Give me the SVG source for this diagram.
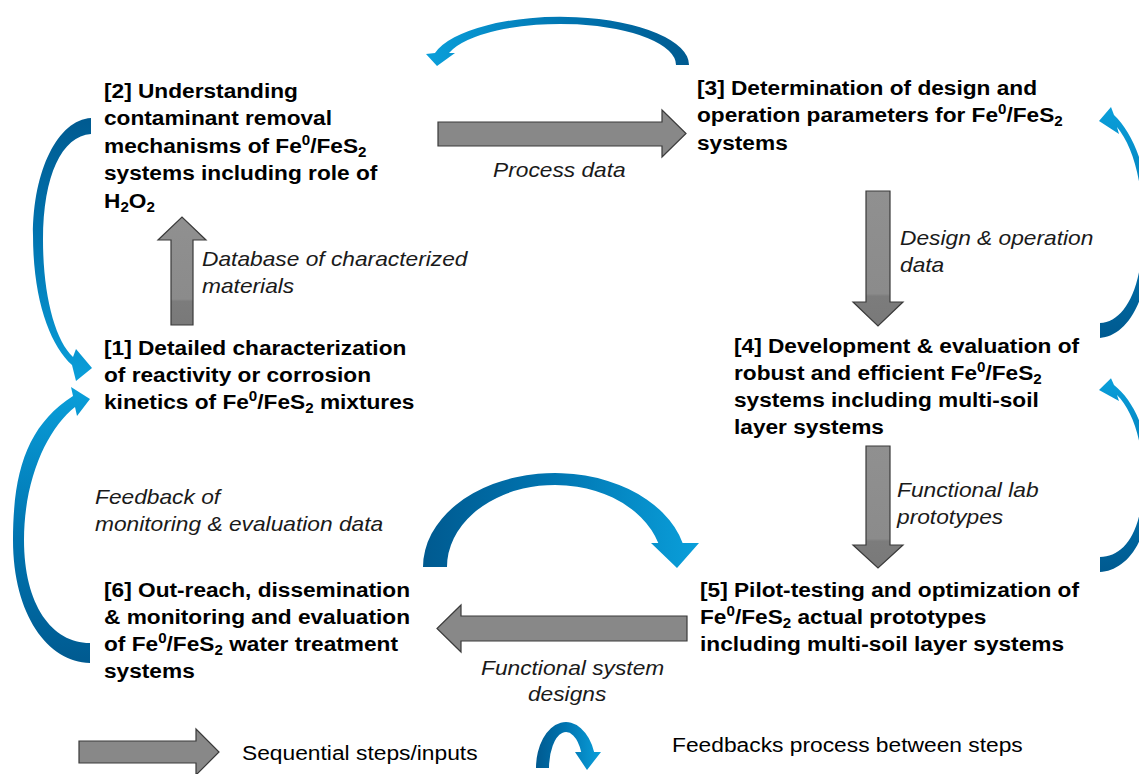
<svg xmlns="http://www.w3.org/2000/svg" width="1139" height="774" viewBox="0 0 1139 774">
<defs>
<style>
.b{font-family:"Liberation Sans",Arial,sans-serif;font-weight:bold;font-size:21px;fill:#000}
.i{font-family:"Liberation Sans",Arial,sans-serif;font-style:italic;font-size:20.5px;fill:#1a1a1a}
.l{font-family:"Liberation Sans",Arial,sans-serif;font-size:21px;fill:#000}
.sp{font-size:14px}
.blk{stroke:#3a3a3a;stroke-width:1.2;fill:#888888}
.blkv{stroke:#3a3a3a;stroke-width:1.2;fill:url(#gv)}
</style>
<linearGradient id="gv" x1="0" y1="0" x2="0" y2="1">
<stop offset="0" stop-color="#909090"/><stop offset="0.76" stop-color="#8b8b8b"/><stop offset="0.78" stop-color="#7c7c7c"/><stop offset="1" stop-color="#797979"/>
</linearGradient>
<linearGradient id="gUp" x1="0" y1="1" x2="0" y2="0">
<stop offset="0" stop-color="#005a90"/><stop offset="0.45" stop-color="#0074b0"/><stop offset="1" stop-color="#0a9fda"/>
</linearGradient>
<linearGradient id="gDown" x1="0" y1="0" x2="0" y2="1">
<stop offset="0" stop-color="#005a90"/><stop offset="0.45" stop-color="#0074b0"/><stop offset="1" stop-color="#0a9fda"/>
</linearGradient>
<linearGradient id="gLeft" x1="1" y1="0" x2="0" y2="0">
<stop offset="0" stop-color="#005a90"/><stop offset="0.45" stop-color="#0074b0"/><stop offset="1" stop-color="#0a9fda"/>
</linearGradient>
<linearGradient id="gRight" x1="0" y1="0" x2="1" y2="0">
<stop offset="0" stop-color="#005a90"/><stop offset="0.45" stop-color="#0074b0"/><stop offset="1" stop-color="#0a9fda"/>
</linearGradient>
</defs>
<rect width="1139" height="774" fill="#ffffff"/>

<g id="connectors">
<polygon class="blk" points="438,122 662,122 662,110 686,133.5 662,157 662,146 438,146"/>
<polygon class="blkv" points="171,325 171,240 158,240 182,217 206,240 193,240 193,325"/>
<polygon class="blkv" points="866,191 890,191 890,302 903,302 878,326 853,302 866,302"/>
<polygon class="blkv" points="866,446 890,446 890,545 903,545 878,568 853,545 866,545"/>
<polygon class="blk" points="687,616 461,616 461,605 437,628.5 461,652 461,641 687,641"/>
<path fill="url(#gLeft)" d="M689,65 A129,48 0 0 0 435,53 L426,54 L437,66 L455,53 L449,53 A116,41 0 0 1 676,65 Z"/>
<path fill="url(#gRight)" d="M423,567 A132,94 0 0 1 682.6,543 L699,543 L677,568 L651,543 L658.3,543 A108,82 0 0 0 447,567 Z"/>
<path fill="url(#gDown)" d="M91,118 C58,120 33,170 33,235 C33,300 50,345 72,365 L76,381 L92,368 L76,349 L73,357 C55,340 43,295 43,240 C43,175 62,136 91,134 Z"/>
<path fill="url(#gUp)" d="M90,663 C48,662 13,615 13,540 C13,470 28,425 73,396 L71,387 L90,399 L77,416 L75,407 C48,428 24,478 24,540 C24,605 52,643 90,643 Z"/>
<path fill="url(#gUp)" d="M1100,338 C1125,336 1150,305 1150,232 C1150,175 1135,135 1114,115 L1111,107 L1099,121 L1119,134 L1117,127 C1132,145 1143,180 1143,228 C1143,290 1124,322 1100,323 Z"/>
<path fill="url(#gUp)" d="M1100,572 C1125,570.4 1150,544.4 1150,483.1 C1150,435.3 1135,401.7 1114,385 L1111,378.3 L1099,390 L1119,400.9 L1117,395 C1132,410 1143,439.5 1143,479.8 C1143,531.8 1124,557 1100,557 Z"/>
</g>

<g id="labels">
<g transform="translate(493 177) scale(1.11 1)"><text class="i" x="0" y="0">Process data</text></g>
<g transform="translate(202 266) scale(1.11 1)"><text class="i" x="0" y="0">Database of characterized</text><text class="i" x="0" y="27">materials</text></g>
<g transform="translate(900 245) scale(1.11 1)"><text class="i" x="0" y="0">Design &amp; operation</text><text class="i" x="0" y="27">data</text></g>
<g transform="translate(897 497) scale(1.11 1)"><text class="i" x="0" y="0">Functional lab</text><text class="i" x="0" y="27">prototypes</text></g>
<g transform="translate(95 504) scale(1.11 1)"><text class="i" x="0" y="0">Feedback of</text><text class="i" x="0" y="27">monitoring &amp; evaluation data</text></g>
<g transform="translate(481 675) scale(1.11 1)"><text class="i" x="0" y="0">Functional system</text><text class="i" x="42.3" y="26">designs</text></g>
</g>

<g id="node2" transform="translate(104 98) scale(1.08 1)">
<text class="b" x="0" y="0">[2] Understanding</text>
<text class="b" x="0" y="27.5">contaminant removal</text>
<text class="b" x="0" y="55">mechanisms of Fe<tspan class="sp" dy="-8">0</tspan><tspan dy="8">/FeS</tspan><tspan class="sp" dy="4">2</tspan></text>
<text class="b" x="0" y="82.5">systems including role of</text>
<text class="b" x="0" y="110">H<tspan class="sp" dy="4">2</tspan><tspan dy="-4">O</tspan><tspan class="sp" dy="4">2</tspan></text>
</g>

<g id="node1" transform="translate(104 355) scale(1.08 1)">
<text class="b" x="0" y="0">[1] Detailed characterization</text>
<text class="b" x="0" y="27">of reactivity or corrosion</text>
<text class="b" x="0" y="54">kinetics of Fe<tspan class="sp" dy="-8">0</tspan><tspan dy="8">/FeS</tspan><tspan class="sp" dy="4">2</tspan><tspan dy="-4"> mixtures</tspan></text>
</g>

<g id="node3" transform="translate(697 95) scale(1.08 1)">
<text class="b" x="0" y="0">[3] Determination of design and</text>
<text class="b" x="0" y="27.5">operation parameters for Fe<tspan class="sp" dy="-8">0</tspan><tspan dy="8">/FeS</tspan><tspan class="sp" dy="4">2</tspan></text>
<text class="b" x="0" y="55">systems</text>
</g>

<g id="node4" transform="translate(734 353) scale(1.08 1)">
<text class="b" x="0" y="0">[4] Development &amp; evaluation of</text>
<text class="b" x="0" y="27">robust and efficient Fe<tspan class="sp" dy="-8">0</tspan><tspan dy="8">/FeS</tspan><tspan class="sp" dy="4">2</tspan></text>
<text class="b" x="0" y="54">systems including multi-soil</text>
<text class="b" x="0" y="81">layer systems</text>
</g>

<g id="node5" transform="translate(700 597) scale(1.08 1)">
<text class="b" x="0" y="0">[5] Pilot-testing and optimization of</text>
<text class="b" x="0" y="27">Fe<tspan class="sp" dy="-8">0</tspan><tspan dy="8">/FeS</tspan><tspan class="sp" dy="4">2</tspan><tspan dy="-4"> actual prototypes</tspan></text>
<text class="b" x="0" y="54">including multi-soil layer systems</text>
</g>

<g id="node6" transform="translate(104 597) scale(1.08 1)">
<text class="b" x="0" y="0">[6] Out-reach, dissemination</text>
<text class="b" x="0" y="27">&amp; monitoring and evaluation</text>
<text class="b" x="0" y="54">of Fe<tspan class="sp" dy="-8">0</tspan><tspan dy="8">/FeS</tspan><tspan class="sp" dy="4">2</tspan><tspan dy="-4"> water treatment</tspan></text>
<text class="b" x="0" y="81">systems</text>
</g>

<g id="legend">
<polygon class="blk" points="79,741 196,741 196,729 219,752 196,775 196,763 79,763"/>
<g transform="translate(242 760) scale(1.085 1)"><text class="l" x="0" y="0">Sequential steps/inputs</text></g>
<path fill="url(#gRight)" d="M536,768 A30,46 0 0 1 594.1,752 L601,752 L587,770 L575,752 L581.2,752 A17,36 0 0 0 549,768 Z"/>
<g transform="translate(672 752) scale(1.085 1)"><text class="l" x="0" y="0">Feedbacks process between steps</text></g>
</g>
</svg>
